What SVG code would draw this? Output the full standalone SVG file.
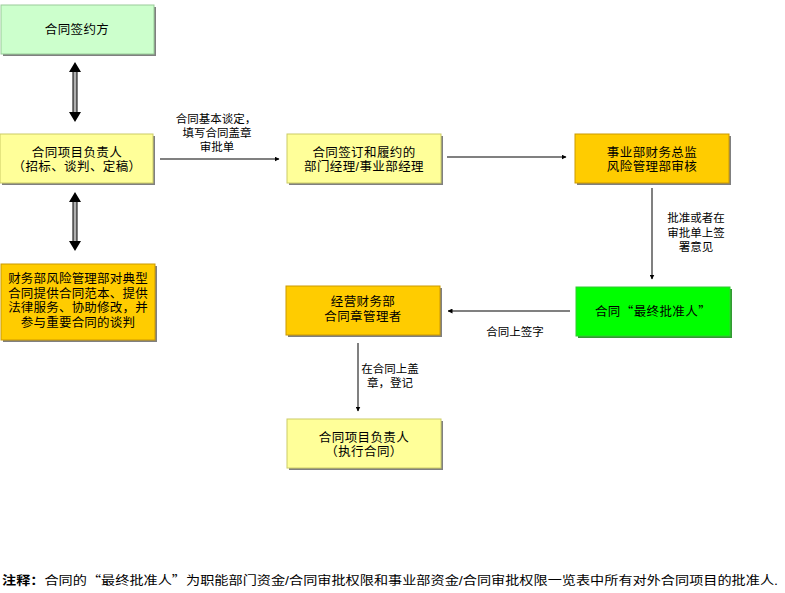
<svg xmlns="http://www.w3.org/2000/svg" width="785" height="593" viewBox="0 0 785 593">
<style>
.t{font-family:"Liberation Sans","Noto Sans CJK SC",sans-serif;font-size:12.5px;fill:#000;text-anchor:middle;letter-spacing:0.4px}
.l{font-family:"Liberation Sans","Noto Sans CJK SC",sans-serif;font-size:11.5px;fill:#000;text-anchor:middle}
.q{font-family:"Noto Sans CJK SC",sans-serif}
.sh{fill:#808080}
.line{stroke:#808080;stroke-width:2;fill:none}
.dbl{fill:#b0b0b0;stroke:#000;stroke-width:1}
.head{fill:#000}
</style>
<defs>
<marker id="ah" viewBox="0 0 10 10" refX="9" refY="5" markerWidth="5" markerHeight="5" orient="auto" markerUnits="userSpaceOnUse">
<path d="M0,0 L10,5 L0,10 Z" fill="#000"/>
</marker>
</defs>
<rect width="785" height="593" fill="#fff"/>

<g id="n1">
<rect x="3" y="7" width="153" height="49" class="sh"/>
<rect x="1" y="5" width="153" height="49" fill="#ccffcc" stroke="#99cc99"/>
<text class="t" x="77" y="34">合同签约方</text>
</g>
<g id="n2">
<rect x="2" y="136" width="153" height="49" class="sh"/>
<rect x="0" y="134" width="153" height="49" fill="#ffff99" stroke="#cccc66"/>
<text class="t" x="77" y="157">合同项目负责人<tspan x="77" dy="14">（招标、谈判、定稿）</tspan></text>
</g>
<g id="n3">
<rect x="3" y="266" width="154" height="76" class="sh"/>
<rect x="1" y="264" width="154" height="76" fill="#ffcc00" stroke="#cc9900"/>
<text class="t" x="78" y="283" style="letter-spacing:0.2px">财务部风险管理部对典型<tspan x="78" dy="14.7">合同提供合同范本、提供</tspan><tspan x="78" dy="14.5">法律服务、协助修改，并</tspan><tspan x="78" dy="14.7">参与重要合同的谈判</tspan></text>
</g>
<g id="n4">
<rect x="289" y="136" width="154" height="49" class="sh"/>
<rect x="287" y="134" width="154" height="49" fill="#ffff99" stroke="#cccc66"/>
<text class="t" x="364" y="157">合同签订和履约的<tspan x="364" dy="14">部门经理/事业部经理</tspan></text>
</g>
<g id="n5">
<rect x="577" y="136" width="154" height="49" class="sh"/>
<rect x="575" y="134" width="154" height="49" fill="#ffcc00" stroke="#cc9900"/>
<text class="t" x="652" y="157">事业部财务总监<tspan x="652" dy="14">风险管理部审核</tspan></text>
</g>
<g id="n6">
<rect x="578" y="289" width="154" height="49" fill="#339933"/>
<rect x="576" y="287" width="154" height="49" fill="#00ff00" stroke="#33cc33"/>
<text class="t" x="653" y="316">合同<tspan class="q">“</tspan>最终批准人<tspan class="q">”</tspan></text>
</g>
<g id="n7">
<rect x="288" y="288" width="154" height="49" class="sh"/>
<rect x="286" y="286" width="154" height="49" fill="#ffcc00" stroke="#cc9900"/>
<text class="t" x="363" y="306">经营财务部<tspan x="363" dy="15">合同章管理者</tspan></text>
</g>
<g id="n8">
<rect x="289" y="421" width="154" height="49" class="sh"/>
<rect x="287" y="419" width="154" height="49" fill="#ffff99" stroke="#cccc66"/>
<text class="t" x="364" y="442">合同项目负责人<tspan x="364" dy="14">（执行合同）</tspan></text>
</g>

<g id="connectors">
<rect x="73" y="71" width="4" height="42" class="dbl"/>
<path class="head" d="M75,62 L81,72 L69,72 Z M75,122 L81,112 L69,112 Z"/>
<rect x="73" y="201" width="4" height="41" class="dbl"/>
<path class="head" d="M75,192 L81,202 L69,202 Z M75,251 L81,241 L69,241 Z"/>
<line class="line" x1="160" y1="159" x2="279" y2="159" marker-end="url(#ah)"/>
<line class="line" x1="447" y1="157" x2="566" y2="157" marker-end="url(#ah)"/>
<line class="line" x1="652" y1="188" x2="652" y2="279" marker-end="url(#ah)"/>
<line class="line" x1="570" y1="311" x2="448" y2="311" marker-end="url(#ah)"/>
<line class="line" x1="358" y1="343" x2="358" y2="411" marker-end="url(#ah)"/>
<text class="l" x="216" y="123">合同基本谈定，<tspan x="217" dy="14">填写合同盖章</tspan><tspan x="217" dy="14">审批单</tspan></text>
<text class="l" x="696" y="222">批准或者在<tspan x="696" dy="15">审批单上签</tspan><tspan x="696" dy="14">署意见</tspan></text>
<text class="l" x="515" y="336">合同上签字</text>
<text class="l" x="390" y="373">在合同上盖<tspan x="390" dy="14">章，登记</tspan></text>
</g>

<text x="2" y="585" font-family="'Liberation Sans','Noto Sans CJK SC',sans-serif" font-size="12" textLength="776" lengthAdjust="spacingAndGlyphs"><tspan font-weight="bold">注释：</tspan>合同的<tspan class="q">“</tspan>最终批准人<tspan class="q">”</tspan>为职能部门资金/合同审批权限和事业部资金/合同审批权限一览表中所有对外合同项目的批准人.</text>
</svg>
